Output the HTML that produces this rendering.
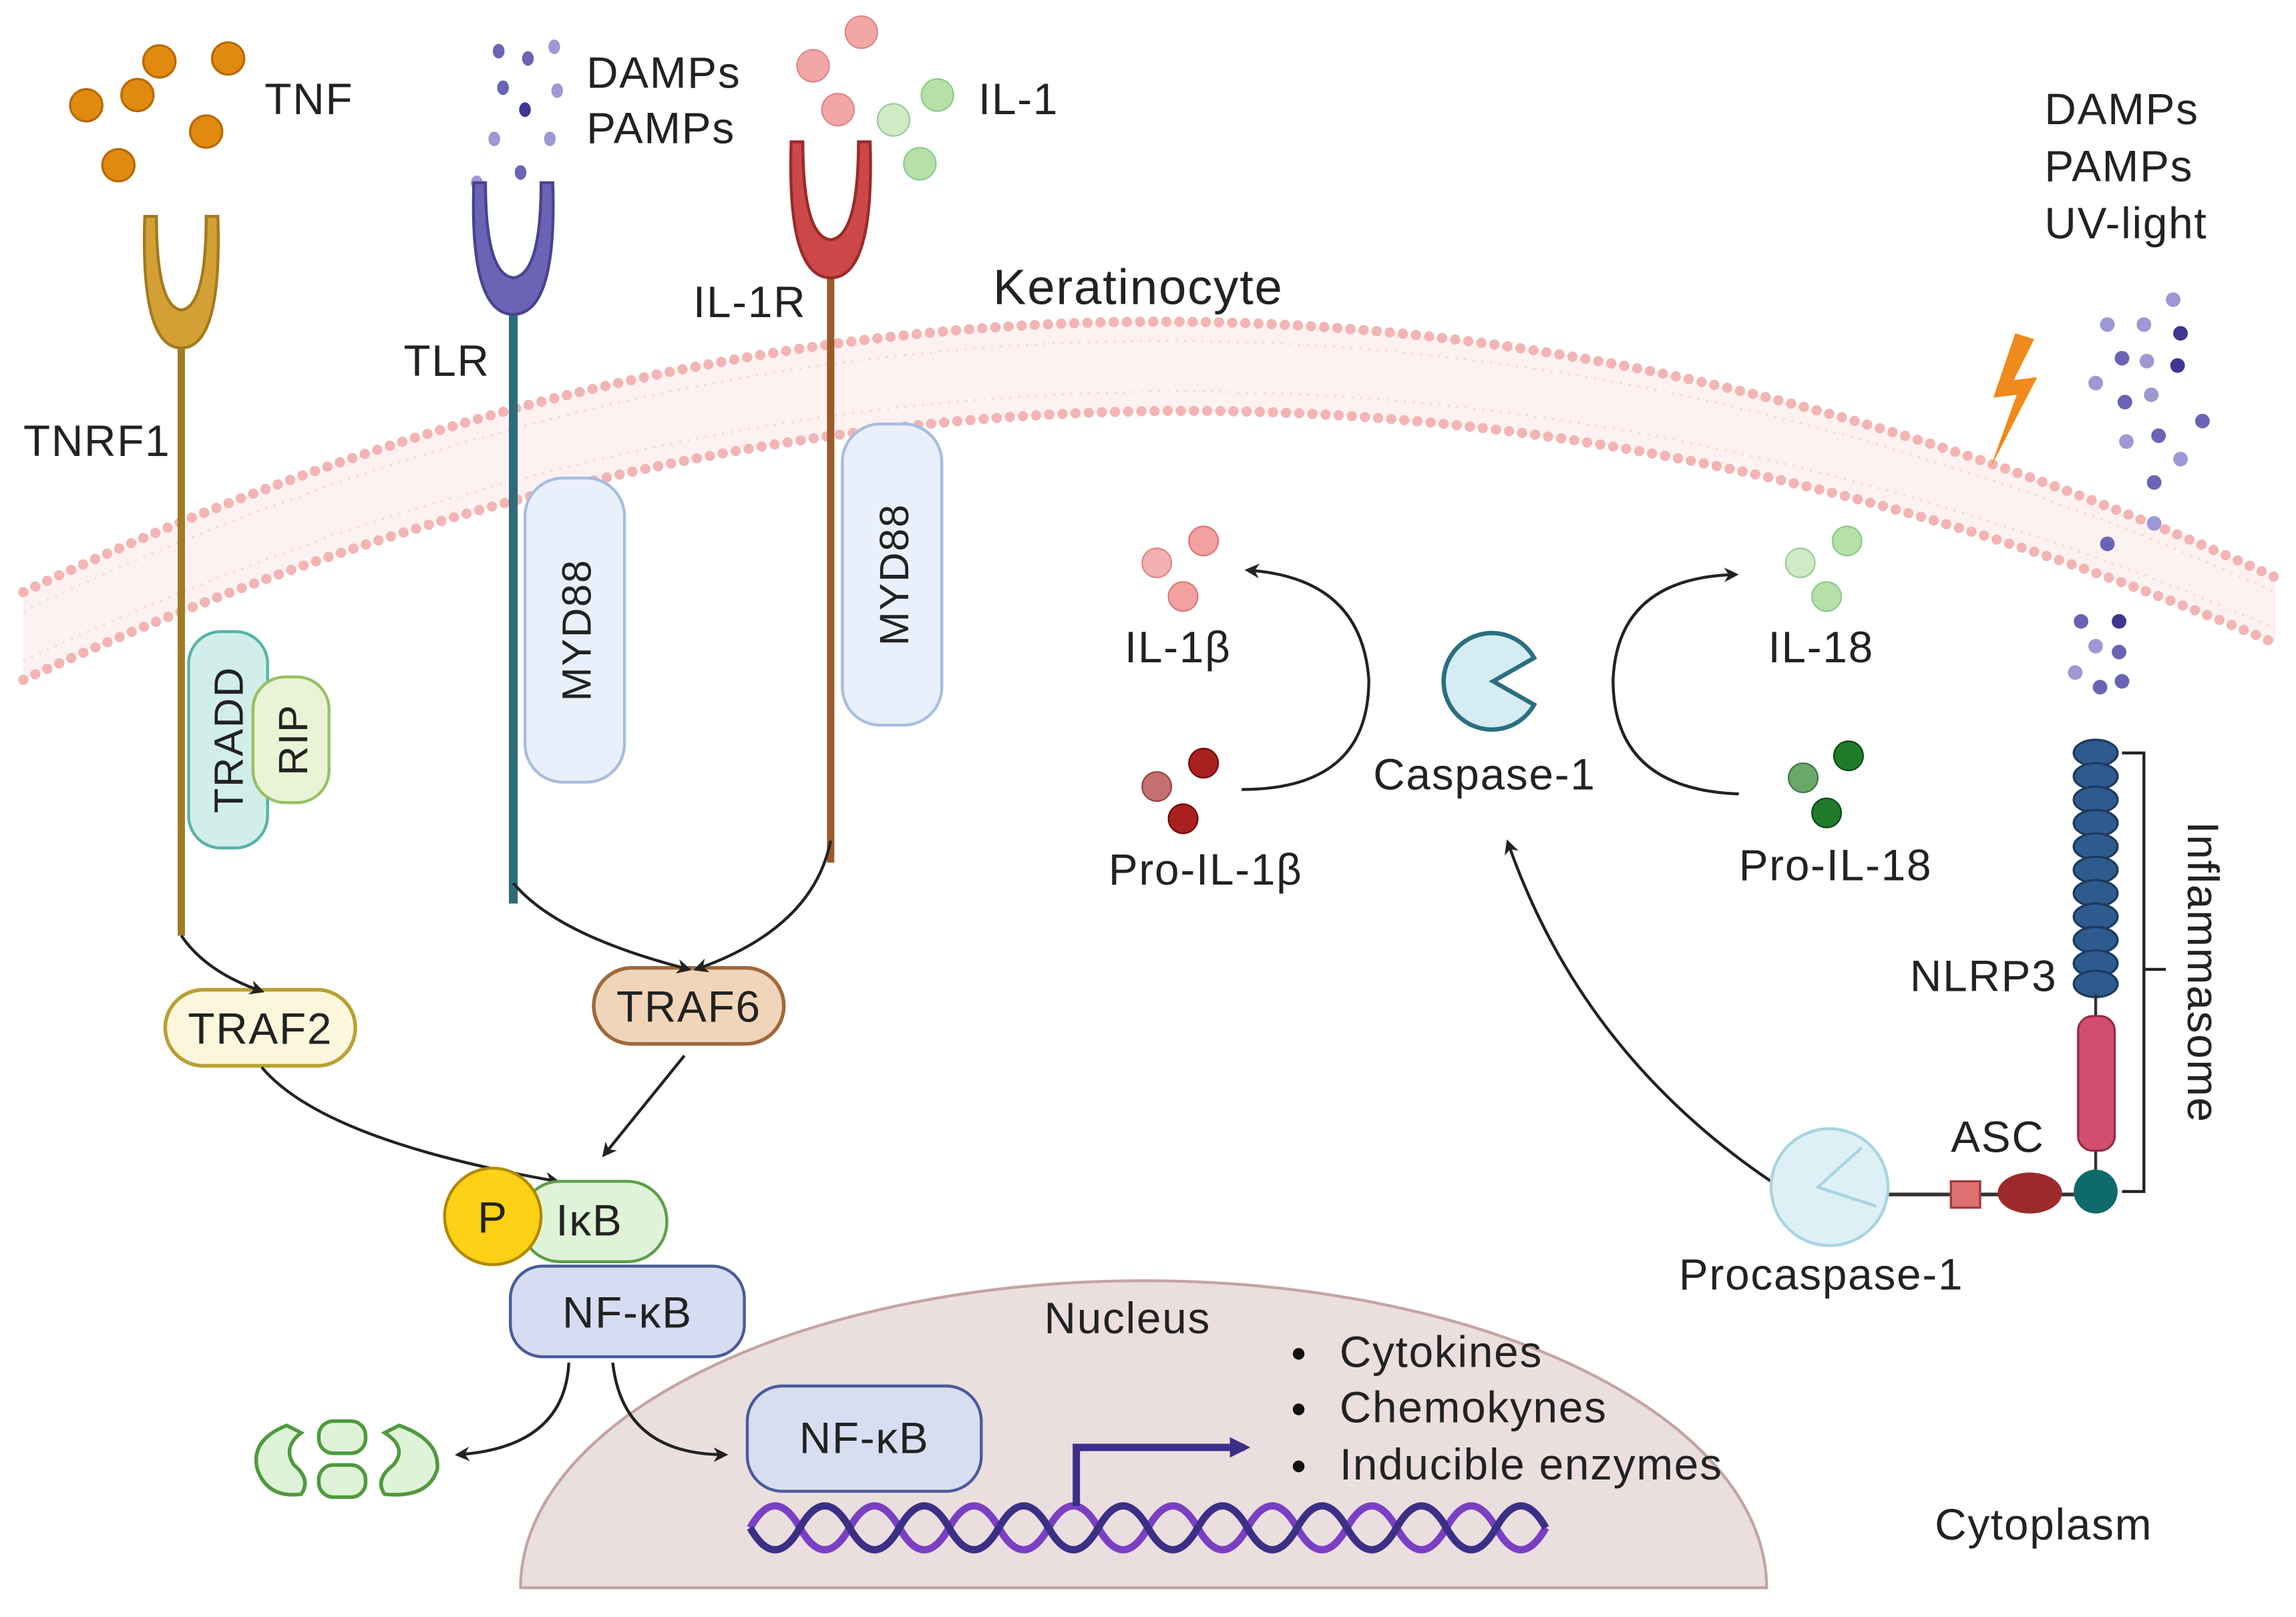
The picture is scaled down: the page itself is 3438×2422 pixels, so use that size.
<!DOCTYPE html>
<html><head><meta charset="utf-8"><style>html,body{margin:0;padding:0;background:#fff}svg{display:block}text{font-family:"Liberation Sans",sans-serif;fill:#222;letter-spacing:0.8px}</style></head>
<body>
<svg width="3438" height="2422" viewBox="0 0 1568 1106" xmlns="http://www.w3.org/2000/svg">
<defs>
<marker id="ah" markerWidth="10" markerHeight="10" refX="8" refY="5" orient="auto" markerUnits="userSpaceOnUse"><path d="M0,0 L10,5 L0,10 L3,5 z" fill="#222"/></marker>
<marker id="ah2" markerWidth="14" markerHeight="14" refX="10" refY="7" orient="auto" markerUnits="userSpaceOnUse"><path d="M0,0 L14,7 L0,14 z" fill="#3d2e8a"/></marker>
</defs>
<rect width="1568" height="1106" fill="#fff"/>
<path d="M15,405 Q780,40 1555,395 L1555,440 Q780,110 15,465 Z" fill="#fdf1f1"/>
<path d="M15,418 Q780,55 1555,405" fill="none" stroke="#f6cccc" stroke-width="1.5" stroke-dasharray="1 5"/>
<path d="M15,452 Q780,95 1555,430" fill="none" stroke="#f6cccc" stroke-width="1.5" stroke-dasharray="1 5"/>
<path d="M15,405 Q780,40 1555,395" fill="none" stroke="#f3b4b4" stroke-width="7" stroke-linecap="round" stroke-dasharray="0 9"/>
<path d="M15,465 Q780,110 1555,440" fill="none" stroke="#f3b4b4" stroke-width="7" stroke-linecap="round" stroke-dasharray="0 9"/>
<path d="M355,1086 A426,210 0 0 1 1207,1086 Z" fill="#ebdede" stroke="#c4a4a4" stroke-width="2"/>
<g fill="#e08a10" stroke="#b86a00" stroke-width="1.5">
<circle cx="58" cy="72" r="11"/><circle cx="108" cy="42" r="11"/><circle cx="155" cy="40" r="11"/><circle cx="93" cy="65" r="11"/><circle cx="140" cy="90" r="11"/><circle cx="80" cy="113" r="11"/></g>
<text x="180" y="78" font-size="30">TNF</text>
<g fill="#6b63b5"><ellipse cx="340" cy="35" rx="4" ry="5"/><ellipse cx="360" cy="40" rx="4" ry="5"/><ellipse cx="378" cy="32" rx="4" ry="5" fill="#9e98d4"/><ellipse cx="343" cy="60" rx="4" ry="5"/><ellipse cx="358" cy="75" rx="4" ry="5" fill="#3e3690"/><ellipse cx="380" cy="62" rx="4" ry="5" fill="#9e98d4"/><ellipse cx="337" cy="95" rx="4" ry="5" fill="#9e98d4"/><ellipse cx="375" cy="95" rx="4" ry="5" fill="#9e98d4"/><ellipse cx="325" cy="125" rx="4" ry="5" fill="#9e98d4"/><ellipse cx="355" cy="118" rx="4" ry="5"/></g>
<text x="400" y="60" font-size="30">DAMPs</text><text x="400" y="98" font-size="30">PAMPs</text>
<g stroke-width="1"><circle cx="555" cy="45" r="11" fill="#f2a6a6" stroke="#d88"/><circle cx="588" cy="22" r="11" fill="#f2a6a6" stroke="#d88"/><circle cx="572" cy="75" r="11" fill="#f2a6a6" stroke="#d88"/>
<circle cx="640" cy="65" r="11" fill="#b6e0a8" stroke="#8c8"/><circle cx="610" cy="82" r="11" fill="#cfeac4" stroke="#9c9"/><circle cx="628" cy="112" r="11" fill="#b6e0a8" stroke="#8c8"/></g>
<text x="668" y="78" font-size="30">IL-1</text>
<line x1="123" y1="230" x2="123" y2="640" stroke="#a07c24" stroke-width="5"/>
<path d="M98,148 Q95,238 123,238 Q151,238 148,148 L140,148 Q140,210 123,212 Q106,210 106,148 Z" fill="#d4a035" stroke="#a37a1e" stroke-width="2"/>
<line x1="350" y1="210" x2="350" y2="618" stroke="#2d6d7a" stroke-width="6"/>
<path d="M323,125 Q320,215 350,215 Q380,215 377,125 L369,125 Q369,188 350,190 Q331,188 331,125 Z" fill="#6b63b5" stroke="#4a4390" stroke-width="2"/>
<line x1="567" y1="185" x2="567" y2="590" stroke="#9a5a2a" stroke-width="5"/>
<path d="M540,97 Q537,190 567,190 Q597,190 594,97 L586,97 Q586,162 567,164 Q548,162 548,97 Z" fill="#cc4848" stroke="#9a2a2a" stroke-width="2"/>
<text x="15" y="312" font-size="30">TNRF1</text>
<text x="275" y="257" font-size="30">TLR</text>
<text x="473" y="217" font-size="30">IL-1R</text>
<text x="678" y="208" font-size="34">Keratinocyte</text>
<rect x="128" y="432" width="54" height="148" rx="22" fill="#d2eeea" stroke="#57b3a5" stroke-width="2"/>
<rect x="172" y="463" width="52" height="86" rx="22" fill="#eaf3d5" stroke="#9ac063" stroke-width="2"/>
<text transform="translate(165,506) rotate(-90)" font-size="28" text-anchor="middle">TRADD</text>
<text transform="translate(209,506) rotate(-90)" font-size="28" text-anchor="middle">RIP</text>
<rect x="358" y="327" width="68" height="208" rx="26" fill="#eaf0fb" stroke="#a8bde0" stroke-width="2"/>
<text transform="translate(403,431) rotate(-90)" font-size="28" text-anchor="middle">MYD88</text>
<rect x="575" y="290" width="68" height="206" rx="26" fill="#eaf0fb" stroke="#a8bde0" stroke-width="2"/>
<text transform="translate(620,393) rotate(-90)" font-size="28" text-anchor="middle">MYD88</text>
<rect x="112" y="677" width="130" height="52" rx="26" fill="#fbf6dc" stroke="#b8a034" stroke-width="2.5"/>
<text x="177" y="714" font-size="30" text-anchor="middle">TRAF2</text>
<rect x="405" y="662" width="130" height="52" rx="26" fill="#f0d5b8" stroke="#a0683a" stroke-width="2.5"/>
<text x="470" y="699" font-size="30" text-anchor="middle">TRAF6</text>
<g fill="none" stroke="#222" stroke-width="2" marker-end="url(#ah)">
<path d="M123,640 Q140,665 178,678"/>
<path d="M350,604 Q380,640 470,663"/>
<path d="M567,575 Q555,635 475,663"/>
<path d="M178,730 Q220,780 380,808"/>
<path d="M467,722 L412,790"/>
<path d="M388,932 Q385,990 312,995"/>
<path d="M418,932 Q425,995 495,995"/>
<path d="M848,540 Q935,540 935,465 Q930,395 852,390"/>
<path d="M1188,543 Q1102,540 1102,465 Q1105,395 1186,393"/>
<path d="M1210,808 Q1080,720 1030,576"/>
</g>
<rect x="355" y="808" width="100" height="55" rx="27" fill="#dff3d8" stroke="#5c9e4a" stroke-width="2"/>
<text x="402" y="845" font-size="30" text-anchor="middle">IκB</text>
<circle cx="336" cy="832" r="33" fill="#fcd116" stroke="#b08a00" stroke-width="2"/>
<text x="336" y="843" font-size="30" text-anchor="middle">P</text>
<rect x="348" y="866" width="160" height="62" rx="22" fill="#d6dcf2" stroke="#4a5a9a" stroke-width="2"/>
<text x="428" y="908" font-size="30" text-anchor="middle">NF-κB</text>
<g fill="#dff3d8" stroke="#4f9a3e" stroke-width="2.5">
<path d="M195,975 Q170,985 175,1005 Q182,1025 205,1022 Q212,1012 200,1002 Q192,990 205,980 Z"/>
<rect x="217" y="972" width="32" height="22" rx="10"/><rect x="217" y="1002" width="32" height="22" rx="10"/>
<path d="M272,975 Q300,985 298,1005 Q292,1025 262,1022 Q255,1012 268,1002 Q278,990 262,980 Z"/>
</g>
<rect x="510" y="948" width="160" height="72" rx="24" fill="#d8def2" stroke="#4a5a9a" stroke-width="2"/>
<text x="590" y="994" font-size="30" text-anchor="middle">NF-κB</text>
<path d="M512,1045 q17,-30 34,0 t34,0 t34,0 t34,0 t34,0 t34,0 t34,0 t34,0 t34,0 t34,0 t34,0 t34,0 t34,0 t34,0 t34,0 t34,0" fill="none" stroke="#7b3fc4" stroke-width="5"/>
<path d="M512,1045 q17,30 34,0 t34,0 t34,0 t34,0 t34,0 t34,0 t34,0 t34,0 t34,0 t34,0 t34,0 t34,0 t34,0 t34,0 t34,0 t34,0" fill="none" stroke="#3b2f86" stroke-width="5"/>
<path d="M735,1030 L735,990 L850,990" fill="none" stroke="#3d2e8a" stroke-width="5" marker-end="url(#ah2)"/>
<text x="713" y="912" font-size="30">Nucleus</text>
<g font-size="30"><circle cx="887" cy="926" r="4" fill="#111"/><text x="915" y="935">Cytokines</text>
<circle cx="887" cy="964" r="4" fill="#111"/><text x="915" y="973">Chemokynes</text>
<circle cx="887" cy="1003" r="4" fill="#111"/><text x="915" y="1012">Inducible enzymes</text></g>
<text x="1322" y="1053" font-size="30">Cytoplasm</text>
<g><circle cx="790" cy="385" r="10" fill="#f2b0b0" stroke="#d88" /><circle cx="822" cy="370" r="10" fill="#f2a0a0" stroke="#d77"/><circle cx="808" cy="408" r="10" fill="#f2a0a0" stroke="#d77"/></g>
<text x="768" y="453" font-size="30">IL-1β</text>
<g><circle cx="790" cy="538" r="10" fill="#c47070" stroke="#944"/><circle cx="822" cy="522" r="10" fill="#a82020" stroke="#700"/><circle cx="808" cy="560" r="10" fill="#a82020" stroke="#700"/></g>
<text x="757" y="605" font-size="30">Pro-IL-1β</text>
<path d="M1048,450 A33,33 0 1 0 1048,482 L1020,466 Z" fill="#d4ecf2" stroke="#2a6f80" stroke-width="3"/>
<text x="938" y="540" font-size="30">Caspase-1</text>
<g><circle cx="1230" cy="385" r="10" fill="#cfeac4" stroke="#9c9"/><circle cx="1262" cy="370" r="10" fill="#b6e0a8" stroke="#8c8"/><circle cx="1248" cy="408" r="10" fill="#b6e0a8" stroke="#8c8"/></g>
<text x="1208" y="453" font-size="30">IL-18</text>
<g><circle cx="1232" cy="532" r="10" fill="#6aa86a" stroke="#474"/><circle cx="1263" cy="517" r="10" fill="#1f7a2a" stroke="#0a4a14"/><circle cx="1248" cy="556" r="10" fill="#1f7a2a" stroke="#0a4a14"/></g>
<text x="1188" y="602" font-size="30">Pro-IL-18</text>
<path d="M1377,228 L1362,272 L1378,270 L1360,320 L1392,258 L1376,260 L1390,232 Z" fill="#f08a1c"/>
<text x="1397" y="85" font-size="30">DAMPs</text><text x="1397" y="124" font-size="30">PAMPs</text><text x="1397" y="163" font-size="30">UV-light</text>
<g fill="#9e98d4"><circle cx="1485" cy="205" r="5"/><circle cx="1440" cy="222" r="5"/><circle cx="1465" cy="222" r="5"/><circle cx="1490" cy="228" r="5" fill="#3e3690"/><circle cx="1450" cy="245" r="5" fill="#6b63b5"/><circle cx="1467" cy="247" r="5"/><circle cx="1488" cy="250" r="5" fill="#3e3690"/><circle cx="1432" cy="262" r="5"/><circle cx="1452" cy="275" r="5" fill="#6b63b5"/><circle cx="1470" cy="270" r="5"/><circle cx="1505" cy="288" r="5" fill="#6b63b5"/><circle cx="1453" cy="302" r="5"/><circle cx="1475" cy="298" r="5" fill="#6b63b5"/><circle cx="1490" cy="314" r="5"/><circle cx="1472" cy="330" r="5" fill="#6b63b5"/><circle cx="1472" cy="358" r="5"/><circle cx="1440" cy="372" r="5" fill="#6b63b5"/><circle cx="1422" cy="425" r="5" fill="#6b63b5"/><circle cx="1448" cy="425" r="5" fill="#3e3690"/><circle cx="1432" cy="442" r="5"/><circle cx="1448" cy="446" r="5" fill="#6b63b5"/><circle cx="1418" cy="460" r="5"/><circle cx="1435" cy="470" r="5" fill="#6b63b5"/><circle cx="1450" cy="466" r="5" fill="#6b63b5"/></g>
<g fill="#2f5a8e" stroke="#1c3a60" stroke-width="1.5">
<ellipse cx="1432" cy="515" rx="15" ry="9"/><ellipse cx="1432" cy="531" rx="15" ry="9"/><ellipse cx="1432" cy="547" rx="15" ry="9"/><ellipse cx="1432" cy="563" rx="15" ry="9"/><ellipse cx="1432" cy="579" rx="15" ry="9"/><ellipse cx="1432" cy="595" rx="15" ry="9"/><ellipse cx="1432" cy="611" rx="15" ry="9"/><ellipse cx="1432" cy="627" rx="15" ry="9"/><ellipse cx="1432" cy="643" rx="15" ry="9"/><ellipse cx="1432" cy="659" rx="15" ry="9"/><ellipse cx="1432" cy="673" rx="15" ry="9"/></g>
<text x="1305" y="678" font-size="30">NLRP3</text>
<line x1="1432" y1="680" x2="1432" y2="815" stroke="#333" stroke-width="2"/>
<rect x="1420" y="695" width="25" height="92" rx="10" fill="#d24e6e" stroke="#9a2a48" stroke-width="1.5"/>
<line x1="1290" y1="817" x2="1420" y2="817" stroke="#333" stroke-width="2.5"/>
<rect x="1333" y="808" width="20" height="18" fill="#e07070" stroke="#a03a3a" stroke-width="1.5"/>
<ellipse cx="1387" cy="816" rx="22" ry="14" fill="#9c2a2a"/>
<circle cx="1432" cy="815" r="15" fill="#0f6a6a"/>
<text x="1333" y="788" font-size="30">ASC</text>
<circle cx="1250" cy="812" r="40" fill="#ddf0f6" stroke="#a8d4e0" stroke-width="2"/>
<path d="M1272,785 L1242,812 L1282,825" fill="none" stroke="#a8d4e0" stroke-width="2"/>
<text x="1147" y="882" font-size="30">Procaspase-1</text>
<path d="M1450,515 L1465,515 L1465,815 L1450,815 M1465,663 L1480,663" fill="none" stroke="#222" stroke-width="2"/>
<text transform="translate(1495,665) rotate(90)" font-size="30" text-anchor="middle">Inflammasome</text>
</svg>
</body></html>
